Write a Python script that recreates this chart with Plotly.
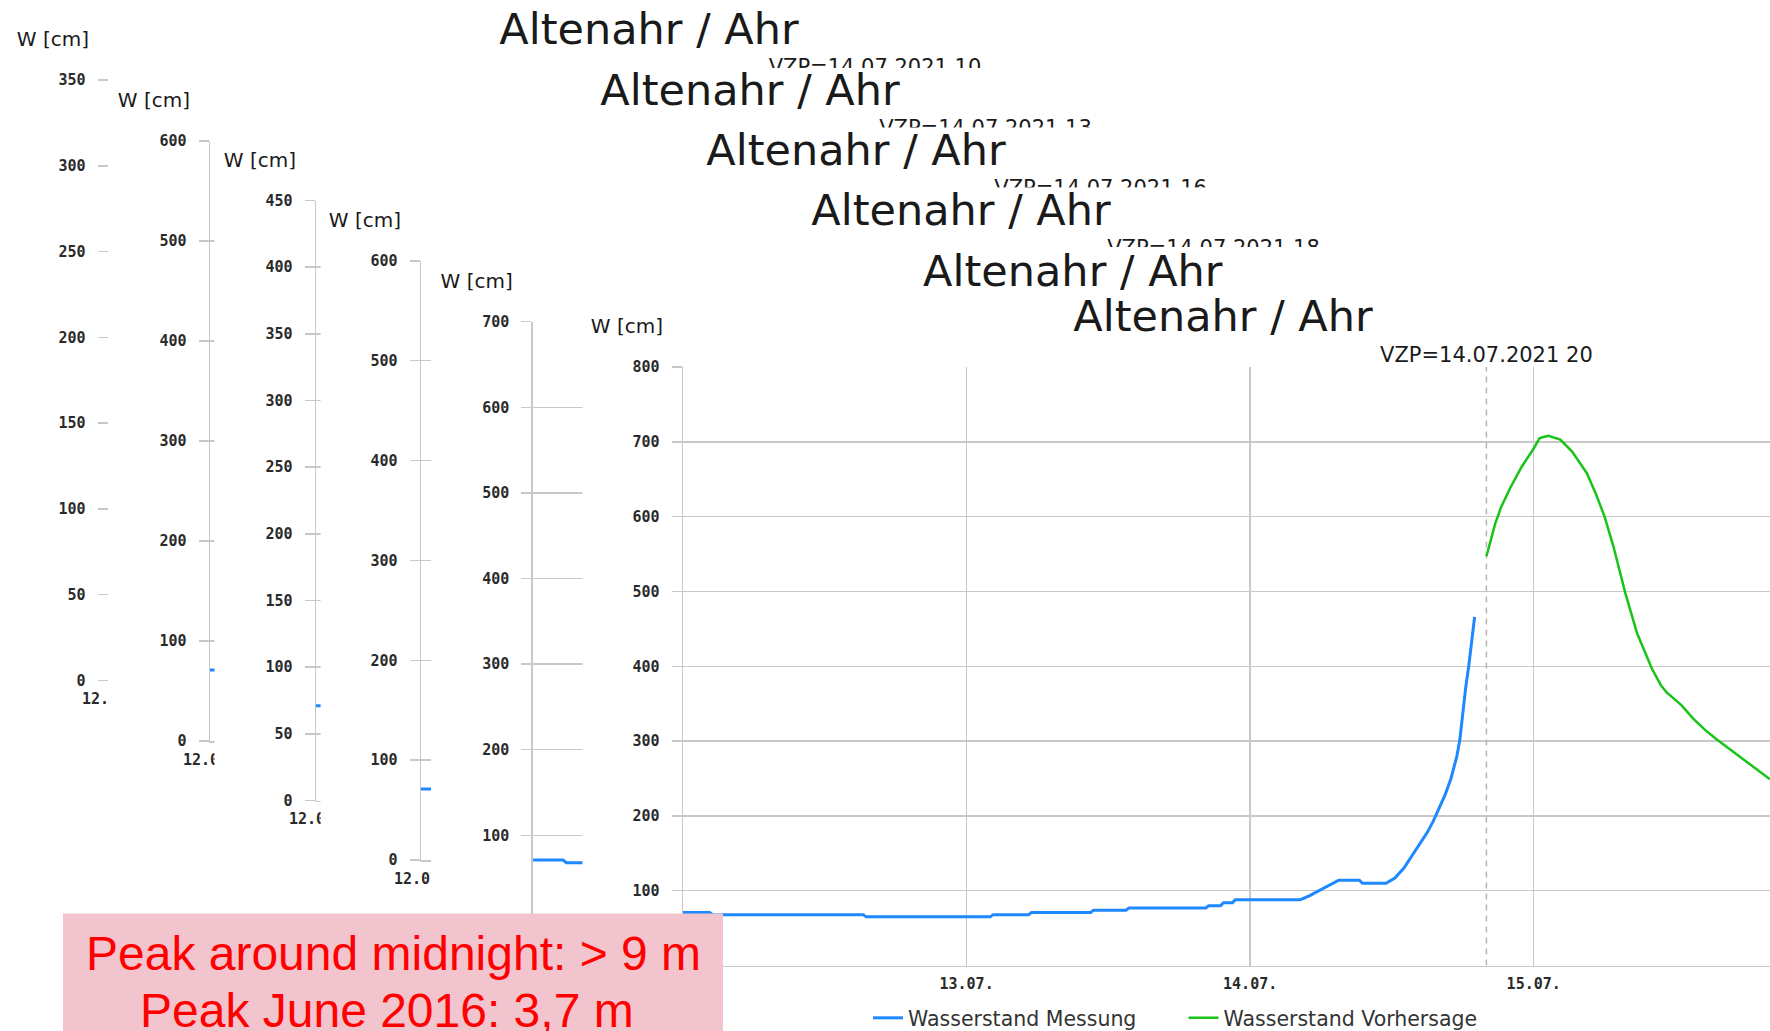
import plotly.graph_objects as go

# Canvas size in px
W, H = 1770, 1031

STATION = "Altenahr / Ahr"
UNIT = "W [cm]"

# Gauge Altenahr / Ahr, measured water level (Wasserstand Messung) in cm
MEAS_TIME = [
    "2021-07-12 00:00", "2021-07-12 02:15", "2021-07-12 02:30", "2021-07-12 15:15",
    "2021-07-12 15:30", "2021-07-13 02:00", "2021-07-13 02:15", "2021-07-13 05:15",
    "2021-07-13 05:30", "2021-07-13 10:30", "2021-07-13 10:45", "2021-07-13 13:30",
    "2021-07-13 13:45", "2021-07-13 20:15", "2021-07-13 20:30", "2021-07-13 21:30",
    "2021-07-13 21:45", "2021-07-13 22:30", "2021-07-13 22:45", "2021-07-14 04:15",
    "2021-07-14 05:00", "2021-07-14 06:00", "2021-07-14 07:00", "2021-07-14 07:30",
    "2021-07-14 09:15", "2021-07-14 09:30", "2021-07-14 11:30", "2021-07-14 12:15",
    "2021-07-14 13:00", "2021-07-14 13:30", "2021-07-14 14:00", "2021-07-14 14:30",
    "2021-07-14 15:00", "2021-07-14 15:30", "2021-07-14 16:00", "2021-07-14 16:30",
    "2021-07-14 17:00", "2021-07-14 17:30", "2021-07-14 17:45", "2021-07-14 18:00",
    "2021-07-14 18:15", "2021-07-14 18:30", "2021-07-14 18:45", "2021-07-14 19:00",
]
MEAS_CM = [
    71, 71, 68, 68,
    65, 65, 68, 68,
    71, 71, 74, 74,
    77, 77, 80, 80,
    84, 84, 88, 88,
    93, 101, 110, 114,
    114, 110, 110, 117,
    130, 142, 153, 165,
    178, 193, 210, 228,
    250, 280, 302, 340,
    372, 400, 435, 466,
]

# Forecast (Wasserstand Vorhersage) of the run issued 14.07.2021 20:00, in cm
FC_TIME = [
    "2021-07-14 20:00", "2021-07-14 20:45", "2021-07-14 21:15", "2021-07-14 22:00",
    "2021-07-14 23:00", "2021-07-15 00:00", "2021-07-15 00:30", "2021-07-15 01:15",
    "2021-07-15 02:15", "2021-07-15 03:15", "2021-07-15 04:30", "2021-07-15 05:15",
    "2021-07-15 06:00", "2021-07-15 06:45", "2021-07-15 07:45", "2021-07-15 08:45",
    "2021-07-15 10:00", "2021-07-15 10:45", "2021-07-15 11:15", "2021-07-15 12:30",
    "2021-07-15 13:30", "2021-07-15 14:30", "2021-07-15 15:30", "2021-07-15 16:30",
    "2021-07-15 18:00", "2021-07-15 19:15", "2021-07-15 20:00",
]
FC_CM = [
    547, 591, 613, 638,
    667, 691, 705, 708,
    703, 687, 658, 631,
    600, 560, 498, 444,
    397, 375, 365, 348,
    330, 315, 302, 290,
    272, 257, 249,
]

VZP_TIME = "2021-07-14 20:00"
VZP_LABEL = "VZP=14.07.2021 20"
X_START, X_END = "2021-07-12 00:00", "2021-07-15 20:00"

# Earlier forecast runs, stacked behind the latest one (oldest first)
SNAP_VZP_LABELS = ["VZP=14.07.2021 10", "VZP=14.07.2021 13", "VZP=14.07.2021 16",
                   "VZP=14.07.2021 18", None, VZP_LABEL]
SNAP_YMAX = [350, 600, 450, 600, 700, 800]
SNAP_DTICK = [50, 100, 50, 100, 100, 100]

LEGEND_NAMES = ["Wasserstand Messung", "Wasserstand Vorhersage"]
NOTE_LINES = ["Peak around midnight: > 9 m", "Peak June 2016: 3,7 m"]

# ---- geometry of each stacked sheet (pixels from top-left) ----
SHEET_LEFT = [0, 108, 214.5, 320.6, 431, 582.5]
SHEET_TOP = [0, 68, 127.5, 187.4, 247, 296]
AXIS_X = [109, 210, 316, 421, 532.8, 683]
PLOT_TOP = [80, 141, 200.5, 260.8, 321.7, 367]
PLOT_BOTTOM = [680.5, 741, 800.5, 860, 920.9, 965.5]
VZP_LABEL_X = [875, 985.5, 1100.6, 1213.5, None, None]

BLUE = "#1e88ff"
GREEN = "#18c418"
GRID = "#c8c8c8"
TICKFONT = dict(family="DejaVu Sans Mono", size=15, color="#2a2a2a", weight="bold")
TEXTFONT = "DejaVu Sans"


def ax_name(kind, n):
    return kind + ("" if n == 1 else str(n))


fig = go.Figure()
layout = {}

for k in range(6):
    s = 2 * k + 1      # white sheet carrying title / unit texts
    d = 2 * k + 2      # chart area of this sheet
    sx, sy = ax_name("x", s), ax_name("y", s)
    dx, dy = ax_name("x", d), ax_name("y", d)

    layout[ax_name("xaxis", s)] = dict(domain=[SHEET_LEFT[k] / W, 1], range=[SHEET_LEFT[k], W],
                                       visible=False, fixedrange=True, anchor=sy,
                                       automargin=False)
    layout[ax_name("yaxis", s)] = dict(domain=[0, 1 - SHEET_TOP[k] / H], range=[H, SHEET_TOP[k]],
                                       visible=False, fixedrange=True, anchor=sx,
                                       automargin=False)

    def sheet_text(x, y, text, size, pos):
        fig.add_trace(go.Scatter(
            x=[x], y=[y], text=[text], mode="text", textposition=pos,
            textfont=dict(family=TEXTFONT, size=size, color="#1a1a1a"),
            xaxis=sx, yaxis=sy, showlegend=False, hoverinfo="skip", cliponaxis=False))

    sheet_text(AXIS_X[k] + 540, PLOT_TOP[k] - 46.5, STATION, 43, "middle center")
    sheet_text(AXIS_X[k] - 20, PLOT_TOP[k] - 39, UNIT, 20, "middle left")
    if VZP_LABEL_X[k] is not None and SNAP_VZP_LABELS[k]:
        sheet_text(VZP_LABEL_X[k], PLOT_TOP[k] - 11, SNAP_VZP_LABELS[k], 21, "middle center")

    layout[ax_name("xaxis", d)] = dict(
        domain=[AXIS_X[k] / W, 1], type="date", range=[X_START, X_END],
        tickformat="%d.%m.", dtick=86400000, tick0=X_START,
        showgrid=True, gridcolor=GRID, gridwidth=1.5,
        showline=True, linecolor=GRID, linewidth=1.5,
        ticks="", ticklabelstandoff=4, tickfont=TICKFONT,
        zeroline=False, fixedrange=True, anchor=dy, automargin=False)
    layout[ax_name("yaxis", d)] = dict(
        domain=[1 - PLOT_BOTTOM[k] / H, 1 - PLOT_TOP[k] / H],
        range=[0, SNAP_YMAX[k]], dtick=SNAP_DTICK[k], tick0=0,
        showgrid=True, gridcolor=GRID, gridwidth=1.5,
        showline=True, linecolor=GRID, linewidth=1.5,
        ticks="outside", ticklen=10, tickwidth=1.5, tickcolor=GRID,
        ticklabelstandoff=9, tickfont=TICKFONT,
        zeroline=False, fixedrange=True, anchor=dx, automargin=False)

    latest = (k == 5)
    fig.add_trace(go.Scatter(
        x=MEAS_TIME, y=MEAS_CM, mode="lines", name=LEGEND_NAMES[0],
        line=dict(color=BLUE, width=3), xaxis=dx, yaxis=dy,
        showlegend=latest, legend="legend", hoverinfo="skip"))

    if latest:
        fig.add_trace(go.Scatter(
            x=[VZP_TIME, VZP_TIME], y=[0, SNAP_YMAX[k]], mode="lines",
            line=dict(color="#b4b4b4", width=1.5, dash="6px,5px"),
            xaxis=dx, yaxis=dy, showlegend=False, hoverinfo="skip"))
        fig.add_trace(go.Scatter(
            x=FC_TIME, y=FC_CM, mode="lines", name=LEGEND_NAMES[1],
            line=dict(color=GREEN, width=2.5), xaxis=dx, yaxis=dy,
            showlegend=True, legend="legend2", hoverinfo="skip"))
        fig.add_trace(go.Scatter(
            x=[VZP_TIME], y=[SNAP_YMAX[k]], text=[VZP_LABEL], mode="text",
            textposition="top center",
            textfont=dict(family=TEXTFONT, size=21, color="#1a1a1a"),
            xaxis=dx, yaxis=dy, showlegend=False, hoverinfo="skip", cliponaxis=False))

legend_common = dict(orientation="h", xanchor="left", yanchor="middle",
                     bgcolor="rgba(0,0,0,0)", itemwidth=30,
                     font=dict(family=TEXTFONT, size=20.5, color="#333333"))
layout["legend"] = dict(x=868 / W, y=1 - 1018 / H, **legend_common)
layout["legend2"] = dict(x=1183.5 / W, y=1 - 1018 / H, **legend_common)

# pink note box in the lower left corner
layout["shapes"] = [dict(type="rect", xref="paper", yref="paper",
                         x0=63 / W, x1=723 / W, y0=0, y1=1 - 913.5 / H,
                         fillcolor="#f2c4ce", line=dict(width=0), layer="above")]
layout["annotations"] = [
    dict(text=NOTE_LINES[0], x=393 / W, y=1 - 953.7 / H, xref="paper", yref="paper",
         xanchor="center", yanchor="middle", showarrow=False,
         font=dict(family="Liberation Sans", size=48, color="#ff0000")),
    dict(text=NOTE_LINES[1], x=387 / W, y=1 - 1010 / H, xref="paper", yref="paper",
         xanchor="center", yanchor="middle", showarrow=False,
         font=dict(family="Liberation Sans", size=48, color="#ff0000")),
]

fig.update_layout(
    width=W, height=H, autosize=False,
    margin=dict(l=0, r=0, t=0, b=0, pad=0, autoexpand=False),
    paper_bgcolor="white", plot_bgcolor="white",
    hovermode=False, **layout)

fig.write_html("out.html", config={"displayModeBar": False, "staticPlot": True},
               post_script="document.body.style.margin='0';")
